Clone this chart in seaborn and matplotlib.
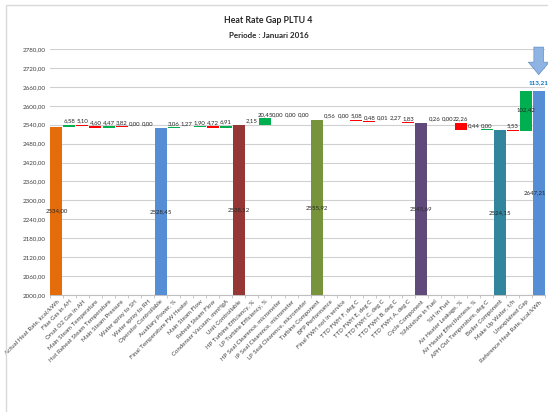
import matplotlib
matplotlib.use("Agg")
import matplotlib.pyplot as plt
from matplotlib.patches import Rectangle
import seaborn as sns
import numpy as np

# chart data
categories = [
    "Actual Heat Rate, kcal/kWh", "Flue Gas in AH", "Orsat O2 Gas in AH",
    "Main Steam Temperature", "Hot Reheat Steam Temperature", "Main Steam Pressure",
    "Water spray to SH", "Water spray to RH", "Operator Controllable",
    "Auxiliary Power, %", "Final Temperature FW Heater", "Main Steam Flow",
    "Reheat Steam Flow", "Condenser Vacuum, mmHgA", "Unit Controllable",
    "HP Turbine Efficiency, %", "LP Turbine Efficiency, %",
    "HP Seal Clearence, micrometer", "IP Seal Clearence, micrometer",
    "LP Seal Clearence, micrometer", "Turbine Component", "BFP Performance",
    "Final FWH not in service", "TTD FWH F, deg C", "TTD FWH E, deg C",
    "TTD FWH C, deg C", "TTD FWH B, deg C", "TTD FWH A, deg C", "Cycle Component",
    "%Moisture in Fuel", "%H in Fuel", "Air Heater Leakage, %",
    "Air Heater Effectiveness, %", "APH Out Temperature, deg C", "Boiler Component",
    "Make Up Water, t/h", "Unexplained Gap", "Reference Heat Rate, kcal/kWh",
]
# totals are absolute heat rates, the rest are signed changes
values = [
    2534.00, 6.58, -5.10, -4.60, 4.47, -3.82, 0.00, 0.00, 2528.45,
    3.06, 1.27, 1.90, -4.72, 6.91, 2538.12,
    2.15, 20.45, 0.00, 0.00, 0.00, 2555.92,
    -0.56, 0.00, -5.08, -0.48, -0.01, -2.27, -1.83, 2545.69,
    0.26, 0.00, -22.26, 0.44, 0.00, 2524.15,
    -5.53, 102.42, 2647.21,
]
total_names = ["Actual Heat Rate, kcal/kWh", "Operator Controllable", "Unit Controllable",
               "Turbine Component", "Cycle Component", "Boiler Component",
               "Reference Heat Rate, kcal/kWh"]
total_colors = ["#E46C0A", "#558ED5", "#953735", "#77933C", "#604A7B", "#31859C", "#558ED5"]
closing_bar = "Unexplained Gap"
yticks = np.arange(2000, 2781, 60)


def fmt(v):
    return f"{v:.2f}".replace(".", ",")


plt.rcParams["font.family"] = ["Lato", "DejaVu Sans"]
fig = plt.figure(figsize=(5.48, 4.12), dpi=100)
fig.patches.append(Rectangle((6 / 548, -0.1), 1.1, 1 - 5 / 412 + 0.1, transform=fig.transFigure,
                             fill=False, edgecolor="#D9D9D9", lw=1))
ax = fig.add_axes([0.091, 0.284, 0.904, 0.597])

# total bars through seaborn on the categorical axis
total_vals = [values[categories.index(n)] for n in total_names]
sns.barplot(x=total_names, y=total_vals, order=categories, hue=total_names,
            palette=dict(zip(total_names, total_colors)), legend=False,
            width=0.92, saturation=1, ax=ax, zorder=3)

# floating change bars
level = None
last = len(categories) - 1
for i, (name, v) in enumerate(zip(categories, values)):
    if name in total_names:
        level = v
        xt = i - 0.3 if i == last else i
        ax.text(xt, (2000 + v) / 2, fmt(v), ha="center", va="center", fontsize=4.3,
                color="#262626", zorder=5)
        continue
    if name == closing_bar:
        low, high = level, values[-1]
        ax.bar(i, high - low, bottom=low, width=0.92, color="#00B050", zorder=3)
        ax.text(i, (low + high) / 2 + 5, fmt(v), ha="center", va="center", fontsize=4.3,
                color="#262626", zorder=5)
        continue
    new = level + v
    color = "#00B050" if v >= 0 else "#FF0000"
    h = max(abs(v), 0.8)
    ax.bar(i, h if v >= 0 else -h, bottom=level, width=0.92, color=color, zorder=3)
    top = max(level, new)
    ax.text(i, top + 4, fmt(abs(v)), ha="center", va="bottom", fontsize=4.3,
            color="#262626", zorder=5)
    level = new

# gap arrow between actual and reference
gap = values[-1] - values[0]
ax.annotate("", xy=(37, 2690), xytext=(37, 2795),
            arrowprops=dict(arrowstyle="simple,head_width=1.5,head_length=0.9,tail_width=0.7",
                            color="#8EB4E3", ec="#4F81BD", lw=0.4),
            annotation_clip=False, zorder=6)
ax.text(37, 2674, fmt(gap), ha="center", va="center", fontsize=4.6, color="#0070C0",
        fontweight="bold", clip_on=False)

ax.set_ylim(2000, 2780)
ax.set_xlim(-0.5, len(categories) - 0.5)
ax.set_yticks(yticks)
ax.set_yticklabels([fmt(t) for t in yticks], fontsize=4.5, color="#404040")
ax.set_xticks(range(len(categories)))
ax.set_xticklabels(categories, rotation=45, ha="right", rotation_mode="anchor",
                   fontsize=4.4, color="#404040")
ax.tick_params(axis="both", which="major", length=0, pad=3)
ax.set_xticks(np.arange(-0.5, len(categories), 1), minor=True)
ax.tick_params(axis="x", which="minor", length=2.5, color="#BFBFBF", width=0.6)
ax.grid(axis="y", color="#D0D0D0", lw=0.8, zorder=0)
ax.set_axisbelow(True)
for s in ["top", "right", "left"]:
    ax.spines[s].set_visible(False)
ax.spines["bottom"].set_color("#BFBFBF")
ax.spines["bottom"].set_linewidth(0.8)
ax.set_xlabel("")
ax.set_ylabel("")

fig.text(0.49, 0.951, "Heat Rate Gap PLTU 4", ha="center", va="center", fontsize=6.3,
         fontweight="bold", color="#262626")
fig.text(0.49, 0.915, "Periode : Januari 2016", ha="center", va="center", fontsize=5.8,
         fontweight="bold", color="#262626")

fig.savefig("out.png", dpi=100)
